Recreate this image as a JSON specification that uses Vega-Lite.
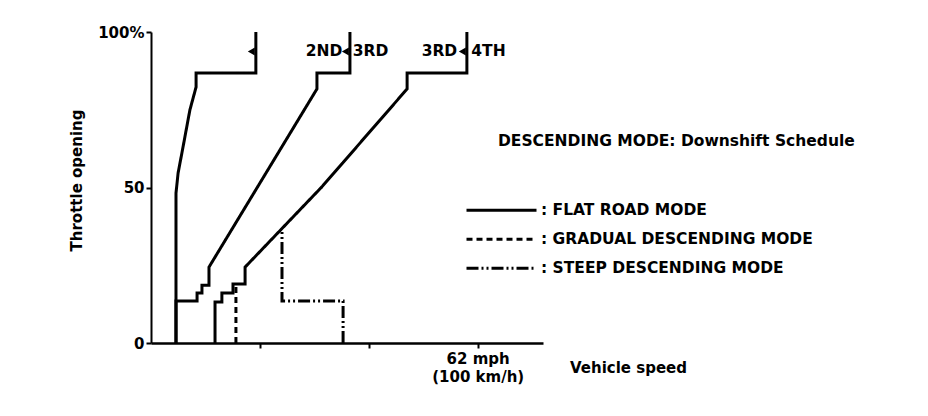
{
  "$schema": "https://vega.github.io/schema/vega-lite/v6.json",
  "width": 392,
  "height": 311,
  "autosize": {"type": "none"},
  "padding": {"left": 151, "top": 32, "right": 385, "bottom": 73},
  "background": "white",
  "title": {
    "text": "DESCENDING MODE: Downshift Schedule",
    "anchor": "start",
    "frame": "group",
    "orient": "top",
    "offset": 0,
    "dx": 347,
    "dy": 131,
    "baseline": "middle",
    "font": "DejaVu Sans",
    "fontSize": 15.5,
    "fontWeight": "bold",
    "color": "black"
  },
  "config": {
    "view": {"stroke": null},
    "font": "DejaVu Sans",
    "axis": {
      "labelFont": "DejaVu Sans",
      "labelFontWeight": "bold",
      "labelFontSize": 15,
      "labelColor": "black",
      "titleFont": "DejaVu Sans",
      "titleFontWeight": "bold",
      "titleFontSize": 15,
      "titleColor": "black",
      "domainColor": "black",
      "tickColor": "black",
      "grid": false
    }
  },
  "datasets": {
    "lines": [
      {"mode": "FLAT ROAD MODE", "curve": "1-2", "seq": 1, "speed": 7.65, "throttle": 0},
      {"mode": "FLAT ROAD MODE", "curve": "1-2", "seq": 2, "speed": 7.65, "throttle": 48.2},
      {"mode": "FLAT ROAD MODE", "curve": "1-2", "seq": 3, "speed": 8.3, "throttle": 54.7},
      {"mode": "FLAT ROAD MODE", "curve": "1-2", "seq": 4, "speed": 9.8, "throttle": 63.0},
      {"mode": "FLAT ROAD MODE", "curve": "1-2", "seq": 5, "speed": 11.9, "throttle": 74.9},
      {"mode": "FLAT ROAD MODE", "curve": "1-2", "seq": 6, "speed": 13.8, "throttle": 82.3},
      {"mode": "FLAT ROAD MODE", "curve": "1-2", "seq": 7, "speed": 13.8, "throttle": 86.8},
      {"mode": "FLAT ROAD MODE", "curve": "1-2", "seq": 8, "speed": 32.1, "throttle": 86.8},
      {"mode": "FLAT ROAD MODE", "curve": "1-2", "seq": 9, "speed": 32.1, "throttle": 100},
      {"mode": "FLAT ROAD MODE", "curve": "2-3", "seq": 1, "speed": 7.65, "throttle": 0},
      {"mode": "FLAT ROAD MODE", "curve": "2-3", "seq": 2, "speed": 7.65, "throttle": 13.5},
      {"mode": "FLAT ROAD MODE", "curve": "2-3", "seq": 3, "speed": 14.1, "throttle": 13.5},
      {"mode": "FLAT ROAD MODE", "curve": "2-3", "seq": 4, "speed": 14.1, "throttle": 16.1},
      {"mode": "FLAT ROAD MODE", "curve": "2-3", "seq": 5, "speed": 15.6, "throttle": 16.1},
      {"mode": "FLAT ROAD MODE", "curve": "2-3", "seq": 6, "speed": 15.6, "throttle": 18.6},
      {"mode": "FLAT ROAD MODE", "curve": "2-3", "seq": 7, "speed": 17.75, "throttle": 18.6},
      {"mode": "FLAT ROAD MODE", "curve": "2-3", "seq": 8, "speed": 17.75, "throttle": 24.4},
      {"mode": "FLAT ROAD MODE", "curve": "2-3", "seq": 9, "speed": 50.8, "throttle": 81.7},
      {"mode": "FLAT ROAD MODE", "curve": "2-3", "seq": 10, "speed": 50.8, "throttle": 86.8},
      {"mode": "FLAT ROAD MODE", "curve": "2-3", "seq": 11, "speed": 60.9, "throttle": 86.8},
      {"mode": "FLAT ROAD MODE", "curve": "2-3", "seq": 12, "speed": 60.9, "throttle": 100},
      {"mode": "FLAT ROAD MODE", "curve": "3-4", "seq": 1, "speed": 19.6, "throttle": 0},
      {"mode": "FLAT ROAD MODE", "curve": "3-4", "seq": 2, "speed": 19.6, "throttle": 13.2},
      {"mode": "FLAT ROAD MODE", "curve": "3-4", "seq": 3, "speed": 21.7, "throttle": 13.2},
      {"mode": "FLAT ROAD MODE", "curve": "3-4", "seq": 4, "speed": 21.7, "throttle": 16.1},
      {"mode": "FLAT ROAD MODE", "curve": "3-4", "seq": 5, "speed": 25.1, "throttle": 16.1},
      {"mode": "FLAT ROAD MODE", "curve": "3-4", "seq": 6, "speed": 25.1, "throttle": 19.0},
      {"mode": "FLAT ROAD MODE", "curve": "3-4", "seq": 7, "speed": 28.8, "throttle": 19.0},
      {"mode": "FLAT ROAD MODE", "curve": "3-4", "seq": 8, "speed": 28.8, "throttle": 24.4},
      {"mode": "FLAT ROAD MODE", "curve": "3-4", "seq": 9, "speed": 52.3, "throttle": 50.2},
      {"mode": "FLAT ROAD MODE", "curve": "3-4", "seq": 10, "speed": 78.4, "throttle": 81.7},
      {"mode": "FLAT ROAD MODE", "curve": "3-4", "seq": 11, "speed": 78.4, "throttle": 86.8},
      {"mode": "FLAT ROAD MODE", "curve": "3-4", "seq": 12, "speed": 96.7, "throttle": 86.8},
      {"mode": "FLAT ROAD MODE", "curve": "3-4", "seq": 13, "speed": 96.7, "throttle": 100},
      {"mode": "GRADUAL DESCENDING MODE", "curve": "3-4g", "seq": 1, "speed": 26.0, "throttle": 0},
      {"mode": "GRADUAL DESCENDING MODE", "curve": "3-4g", "seq": 2, "speed": 26.0, "throttle": 19.0},
      {"mode": "STEEP DESCENDING MODE", "curve": "3-4s", "seq": 1, "speed": 58.8, "throttle": 0},
      {"mode": "STEEP DESCENDING MODE", "curve": "3-4s", "seq": 2, "speed": 58.8, "throttle": 13.5},
      {"mode": "STEEP DESCENDING MODE", "curve": "3-4s", "seq": 3, "speed": 40.1, "throttle": 13.5},
      {"mode": "STEEP DESCENDING MODE", "curve": "3-4s", "seq": 4, "speed": 40.1, "throttle": 36.7}
    ],
    "arrows": [
      {"shift": "1ST-2ND", "speed": 30.7, "throttle": 93.7},
      {"shift": "2ND-3RD", "speed": 59.5, "throttle": 93.7},
      {"shift": "3RD-4TH", "speed": 95.3, "throttle": 93.7}
    ],
    "labels": [
      {"label": "2ND", "speed": 53.0, "throttle": 93.9},
      {"label": "3RD", "speed": 67.2, "throttle": 93.9},
      {"label": "3RD", "speed": 88.3, "throttle": 93.9},
      {"label": "4TH", "speed": 103.3, "throttle": 93.9}
    ]
  },
  "layer": [
    {
      "data": {"name": "lines"},
      "mark": {"type": "line", "color": "black", "strokeWidth": 3, "strokeCap": "butt", "strokeJoin": "miter", "clip": false},
      "encoding": {
        "x": {
          "field": "speed", "type": "quantitative",
          "scale": {"domain": [0, 120], "nice": false, "zero": false},
          "axis": {
            "values": [33.33, 66.67, 100],
            "labelExpr": "datum.value == 100 ? ['62 mph', '(100 km/h)'] : ''",
            "labelLineHeight": 18,
            "labelPadding": 3,
            "labelBaseline": "top",
            "tickSize": 5,
            "tickWidth": 2,
            "domainWidth": 2.5,
            "title": "Vehicle speed",
            "titleX": 477,
            "titleY": 24,
            "titleAlign": "center",
            "titleBaseline": "middle"
          }
        },
        "y": {
          "field": "throttle", "type": "quantitative",
          "scale": {"domain": [0, 100], "nice": false},
          "axis": {
            "values": [0, 50, 100],
            "labelExpr": "datum.value == 100 ? '100%' : datum.label",
            "labelPadding": 2,
            "tickSize": 5,
            "tickWidth": 2,
            "domainWidth": 2,
            "title": "Throttle opening",
            "titleX": -75,
            "titleY": 148,
            "titleAlign": "center",
            "titleBaseline": "middle",
            "titleAngle": -90
          }
        },
        "detail": {"field": "curve"},
        "order": {"field": "seq", "type": "quantitative"},
        "strokeDash": {
          "field": "mode", "type": "nominal",
          "scale": {
            "domain": ["FLAT ROAD MODE", "GRADUAL DESCENDING MODE", "STEEP DESCENDING MODE"],
            "range": [[1, 0], [6, 4], [12, 3, 2, 3, 2, 3]]
          },
          "legend": {
            "orient": "none",
            "legendX": 314,
            "legendY": 164,
            "title": null,
            "padding": 0,
            "symbolType": "stroke",
            "symbolSize": 4900,
            "symbolStrokeWidth": 3,
            "symbolStrokeColor": "black",
            "clipHeight": 28.5,
            "rowPadding": 0,
            "labelOffset": 3,
            "labelFont": "DejaVu Sans",
            "labelFontWeight": "bold",
            "labelFontSize": 15.5,
            "labelColor": "black",
            "labelLimit": 0,
            "labelExpr": "': ' + datum.label"
          }
        }
      }
    },
    {
      "data": {"name": "arrows"},
      "mark": {"type": "point", "shape": "triangle-left", "filled": true, "color": "black", "opacity": 1, "size": 65},
      "encoding": {
        "x": {"field": "speed", "type": "quantitative"},
        "y": {"field": "throttle", "type": "quantitative"}
      }
    },
    {
      "data": {"name": "labels"},
      "mark": {"type": "text", "font": "DejaVu Sans", "fontWeight": "bold", "fontSize": 15.5, "baseline": "middle", "align": "center", "color": "black"},
      "encoding": {
        "x": {"field": "speed", "type": "quantitative"},
        "y": {"field": "throttle", "type": "quantitative"},
        "text": {"field": "label", "type": "nominal"}
      }
    }
  ]
}
